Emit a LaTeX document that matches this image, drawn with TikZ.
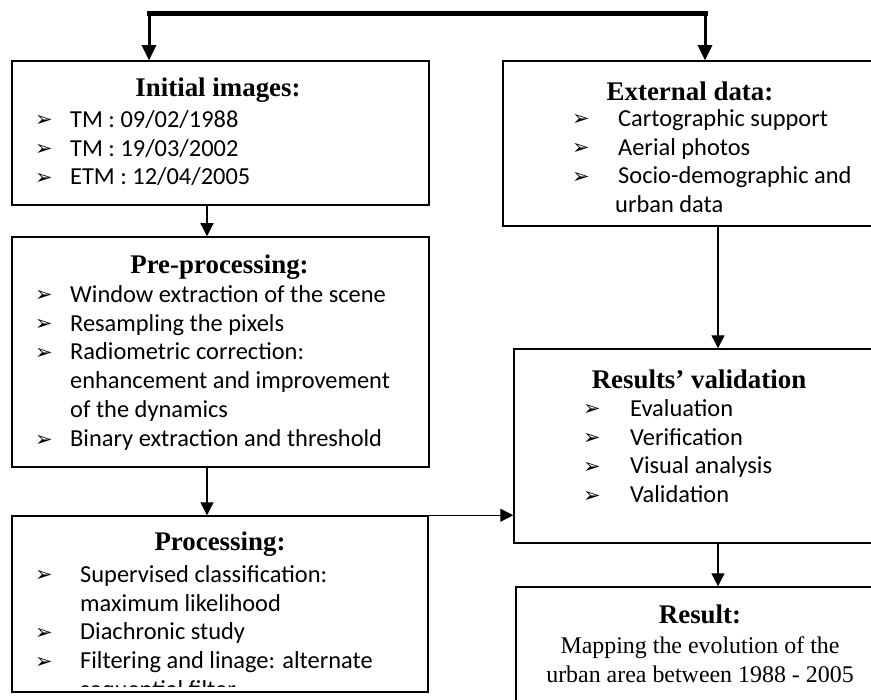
\documentclass[tikz,border=0pt]{standalone}
\usepackage{fontspec}
\setmainfont{Carlito}
\newfontfamily\headfont{Liberation Serif}
\newfontfamily\bulfont{DejaVu Sans}
\usetikzlibrary{arrows.meta,positioning}
\newcommand{\bul}[1][35bp]{\makebox[#1][l]{\raisebox{0.5bp}{\bulfont\fontsize{21}{21}\selectfont ➢}}}
\newcommand{\ind}[1][35bp]{\hspace*{#1}}
\newcommand{\topstrut}{\rule{0pt}{22bp}}

\begin{document}
\begin{tikzpicture}[x=1bp,y=-1bp,
 box/.style={draw,line width=1.5bp,inner sep=0pt},
 head/.style={font=\headfont\bfseries\fontsize{27}{30}\selectfont,inner sep=0pt,anchor=base},
 list/.style={font=\fontsize{24.5}{29}\selectfont,align=left,inner sep=0pt,anchor=north west},
 flow/.style={-{Triangle[length=13bp,width=13bp]},line width=1.4bp},
 trunk/.style={-{Triangle[length=15bp,width=14bp]},line width=3bp}]
\useasboundingbox (0,0) rectangle (871,700);
\clip (0,0) rectangle (871,700);

% left column
\node[box,minimum width=417bp,minimum height=144bp] (init) at (220.5,133) {};
\node[head] (inith) at (218,97) {Initial images:};
\node[list] (initl) at (35,105) {\topstrut\bul TM : 09/02/1988\\\bul TM : 19/03/2002\\\bul ETM : 12/04/2005};

\node[box,minimum width=417bp,minimum height=230bp] (pre) at (220.5,352) {};
\node[head] (preh) at (219.5,273) {Pre-processing:};
\node[list] (prel) at (35,280) {\topstrut\bul Window extraction of the scene\\\bul Resampling the pixels\\\bul Radiometric correction:\\\ind enhancement and improvement\\\ind of the dynamics\\\bul Binary extraction and threshold};

\node[box,minimum width=416bp,minimum height=176bp] (proc) at (220,604) {};
\node[head] (proch) at (220,550) {Processing:};
\begin{scope}
\clip (proc.north west) rectangle ([yshift=6bp]proc.south east);
\node[list] (procl) at (35,560) {\topstrut\bul[45bp]Supervised classification:\\\ind[45bp]maximum likelihood\\\bul[45bp]Diachronic study\\\bul[45bp]Filtering and linage: alternate\\\ind[45bp]sequential filter};
\end{scope}

% right column
\node[box,minimum width=382bp,minimum height=165bp] (ext) at (694,143.5) {};
\node[head] (exth) at (690,101) {External data:};
\node[list] (extl) at (572,104) {\topstrut\bul[46bp]Cartographic support\\\bul[46bp]Aerial photos\\\bul[46bp]Socio-demographic and\\\ind[43bp]urban data};

\node[box,minimum width=371bp,minimum height=194bp] (val) at (699.5,446) {};
\node[head] (valh) at (699,388) {Results’ validation};
\node[list] (vall) at (583,394) {\topstrut\bul[47bp]Evaluation\\\bul[47bp]Verification\\\bul[47bp]Visual analysis\\\bul[47bp]Validation};

\node[box,minimum width=369bp,minimum height=133bp] (res) at (700.5,653.5) {};
\node[head] (resh) at (700,623) {Result:};
\node[font=\headfont\fontsize{24}{29}\selectfont,align=center,inner sep=0pt,anchor=north] (resl) at (700,631) {\topstrut Mapping the evolution of the\\urban area between 1988 - 2005};

% connectors
\coordinate (forkL) at (149,14);
\coordinate (forkR) at (705,14);
\coordinate (colL) at (207,0);
\coordinate (colR) at (718,0);
\draw[line width=5bp,line cap=rect] (forkL) -- (forkR);
\draw[trunk] (forkL) -- (init.north -| forkL);
\draw[trunk] (forkR) -- (ext.north -| forkR);
\draw[flow] (init.south -| colL) -- (pre.north -| colL);
\draw[flow] (pre.south -| colL) -- (proc.north -| colL);
\draw[flow] (proc.north east) -- (proc.north east -| val.west);
\draw[flow] (ext.south -| colR) -- (val.north -| colR);
\draw[flow] (val.south -| colR) -- (res.north -| colR);
\end{tikzpicture}
\end{document}
